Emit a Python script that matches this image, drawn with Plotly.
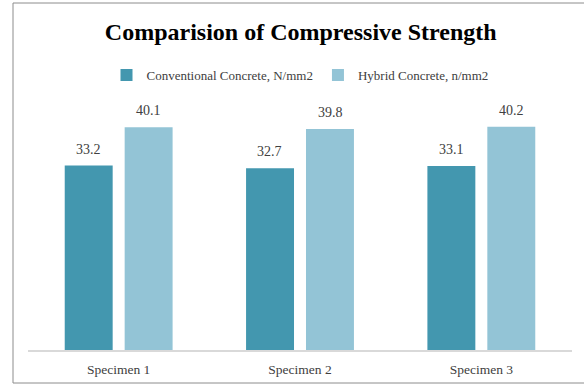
import plotly.graph_objects as go

categories = ["Specimen 1", "Specimen 2", "Specimen 3"]
conventional = [33.2, 32.7, 33.1]
hybrid = [40.1, 39.8, 40.2]
series_names = ["Conventional Concrete, N/mm2", "Hybrid Concrete, n/mm2"]
colors = ["#4397AF", "#93C4D6"]

fig = go.Figure()
for name, vals, col in zip(series_names, [conventional, hybrid], colors):
    fig.add_trace(go.Bar(
        x=categories, y=vals, name=name,
        marker=dict(color=col, line=dict(width=0)),
    ))

# data labels, offset to each bar of the group
slot_shift = 30.25
for k, vals in enumerate([conventional, hybrid]):
    for cat, v in zip(categories, vals):
        fig.add_annotation(x=cat, y=v, xref="x", yref="y", text=f"{v:.1f}",
                           showarrow=False, xshift=(k - 0.5) * 2 * slot_shift,
                           yanchor="bottom", yshift=7,
                           font=dict(family="Liberation Serif", size=14, color="#404040"))

fig.update_layout(
    width=584, height=385,
    margin=dict(l=28, r=12, t=100, b=35, autoexpand=False),
    paper_bgcolor="white", plot_bgcolor="white",
    barmode="group", bargap=0.339, bargroupgap=0.2,
    font=dict(family="Liberation Serif", color="#404040"),
    title=dict(text="<b>Comparision of Compressive Strength</b>",
               font=dict(family="Liberation Serif", size=24, color="#000000"),
               x=0.515, xanchor="center", y=1 - 32 / 385, yanchor="middle",
               yref="container"),
    legend=dict(orientation="h", x=0.5, xanchor="center", y=1.1, yanchor="middle",
                font=dict(family="Liberation Serif", size=13, color="#404040"),
                itemwidth=30, traceorder="normal"),
    showlegend=True,
    xaxis=dict(showline=True, linecolor="#D9D9D9", linewidth=1.5, ticks="",
               ticklabelstandoff=6, automargin=False,
               tickfont=dict(family="Liberation Serif", size=13.5, color="#404040"),
               showgrid=False),
    yaxis=dict(range=[0, 45], visible=False, showgrid=False, zeroline=False,
               automargin=False),
)
fig.add_shape(type="rect", xref="paper", yref="paper",
              x0=(13 - 28) / 544, x1=1.2, y0=(350 - 383) / 250, y1=(350 - 3) / 250,
              line=dict(color="#8C8C8C", width=1), fillcolor="rgba(0,0,0,0)", layer="below")

fig.write_html("out.html")
